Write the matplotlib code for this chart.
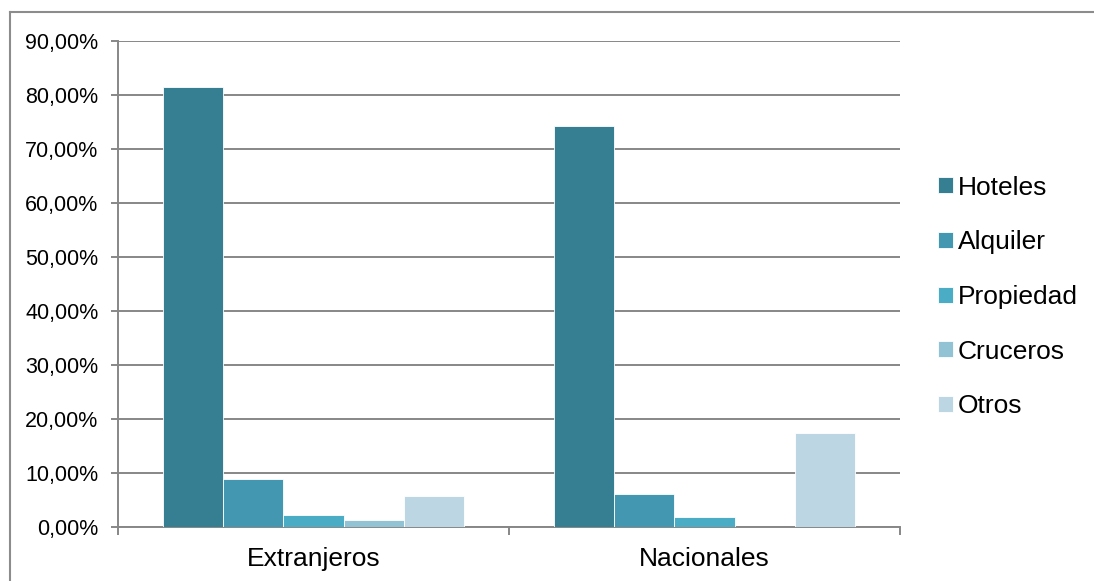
import numpy as np
import matplotlib
matplotlib.use("Agg")
import matplotlib.pyplot as plt
from matplotlib.lines import Line2D
from matplotlib.ticker import FuncFormatter

plt.rcParams['font.family'] = ['Liberation Sans', 'DejaVu Sans']

categories = ["Extranjeros", "Nacionales"]
series = ["Hoteles", "Alquiler", "Propiedad", "Cruceros", "Otros"]
hoteles = [81.6, 74.2]
alquiler = [8.8, 6.1]
propiedad = [2.2, 1.8]
cruceros = [1.2, 0.0]
otros = [5.7, 17.4]
colors = ["#367F93", "#4397B0", "#4BACC6", "#92C3D4", "#BCD7E3"]

values = [hoteles, alquiler, propiedad, cruceros, otros]
grid_col = "#878787"

fig = plt.figure(figsize=(10.94, 5.81), dpi=100)
ax = fig.add_axes([118 / 1094, 1 - 526.5 / 581, (900 - 118) / 1094, (526.5 - 41.3) / 581])

x = np.arange(len(categories))
w = 0.1535
for i, (name, vals) in enumerate(zip(series, values)):
    ax.bar(x + (i - 2) * w, vals, width=w, color=colors[i], label=name,
           edgecolor="white", linewidth=0.6, zorder=3)

ax.set_xlim(-0.5, 1.5)
ax.set_ylim(0, 90)
ax.set_yticks(np.arange(0, 91, 10))
ax.yaxis.set_major_formatter(FuncFormatter(lambda v, p: f"{v:.2f}%".replace(".", ",")))
ax.grid(axis="y", color=grid_col, linewidth=1.4, zorder=0)

ax.set_xticks([-0.5, 0.5, 1.5])
ax.set_xticklabels([])
ax.set_xticks(x, minor=True)
ax.set_xticklabels(categories, minor=True, fontsize=19)
ax.tick_params(axis="x", which="minor", length=0, pad=15)
ax.tick_params(axis="x", which="major", length=6, width=1.4, color=grid_col, direction="out")
ax.tick_params(axis="y", length=5, width=1.4, color=grid_col, labelsize=15.5, pad=9)

for s in ["top", "right"]:
    ax.spines[s].set_visible(False)
for s in ["left", "bottom"]:
    ax.spines[s].set_color(grid_col)
    ax.spines[s].set_linewidth(1.4)

leg = fig.legend(loc="center left", bbox_to_anchor=(938 / 1094, 1 - 297 / 581),
                 frameon=False, fontsize=19, handlelength=0.55, handleheight=0.55,
                 handletextpad=0.2, labelspacing=1.16, borderpad=0, borderaxespad=0)

# chart area border (left and top visible)
fig.add_artist(Line2D([10 / 1094, 10 / 1094], [0, 1 - 12 / 581], transform=fig.transFigure,
                      color="#8c8c8c", linewidth=1.5))
fig.add_artist(Line2D([10 / 1094, 1], [1 - 12 / 581, 1 - 12 / 581], transform=fig.transFigure,
                      color="#8c8c8c", linewidth=1.5))

fig.savefig("out.png", dpi=100)
